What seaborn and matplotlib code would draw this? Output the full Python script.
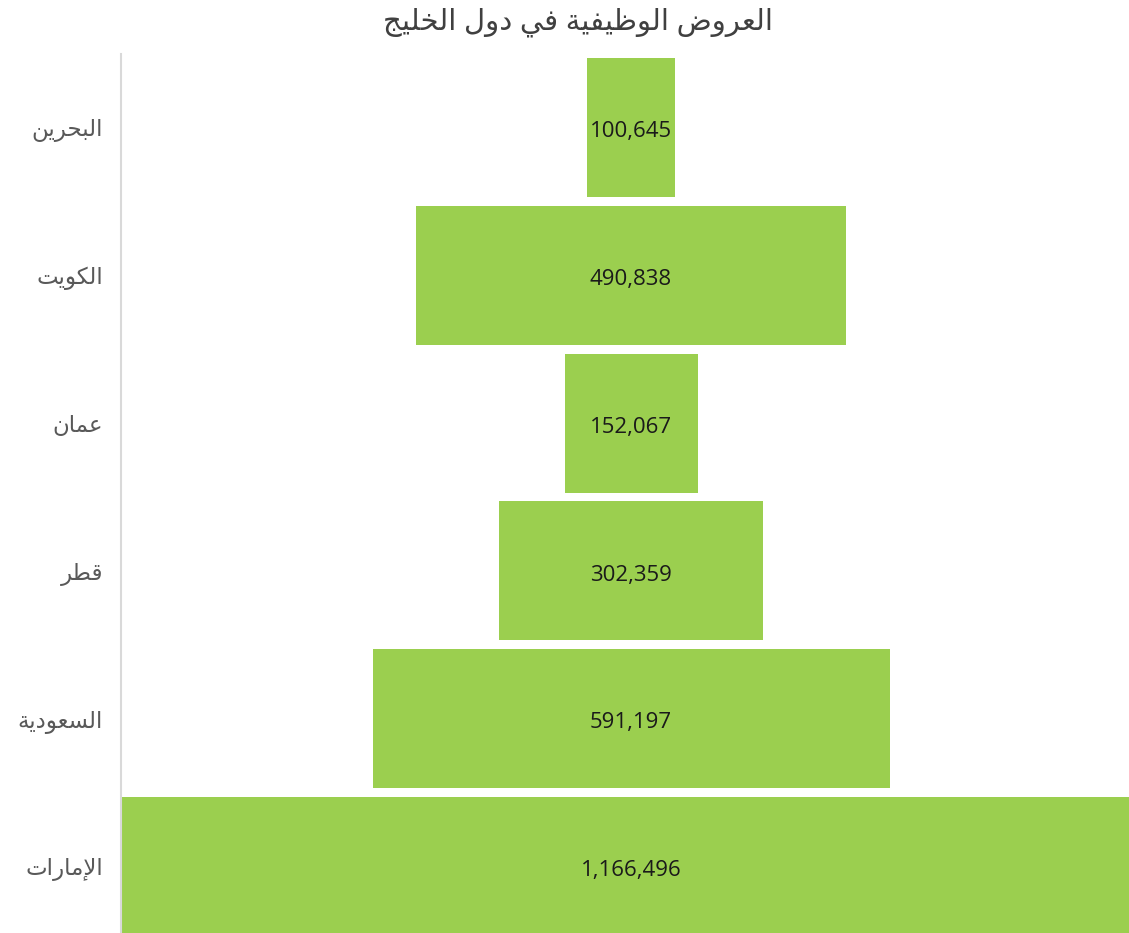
import pandas as pd
import matplotlib.pyplot as plt
import seaborn as sns

# ==========================================
# DATA
# ==========================================
TITLE = 'العروض الوظيفية في دول الخليج'
COUNTRIES = ['البحرين', 'الكويت', 'عمان', 'قطر', 'السعودية', 'الإمارات']
JOB_OFFERS = [100645, 490838, 152067, 302359, 591197, 1166496]

BAR_COLOR = '#9BCF4F'

# Arabic presentation forms: (isolated, final, initial, medial)
FORMS = {
    'ا': ('\uFE8D', '\uFE8E', None, None),
    'إ': ('\uFE87', '\uFE88', None, None),
    'ب': ('\uFE8F', '\uFE90', '\uFE91', '\uFE92'),
    'ة': ('\uFE93', '\uFE94', None, None),
    'ت': ('\uFE95', '\uFE96', '\uFE97', '\uFE98'),
    'ج': ('\uFE9D', '\uFE9E', '\uFE9F', '\uFEA0'),
    'ح': ('\uFEA1', '\uFEA2', '\uFEA3', '\uFEA4'),
    'خ': ('\uFEA5', '\uFEA6', '\uFEA7', '\uFEA8'),
    'د': ('\uFEA9', '\uFEAA', None, None),
    'ر': ('\uFEAD', '\uFEAE', None, None),
    'س': ('\uFEB1', '\uFEB2', '\uFEB3', '\uFEB4'),
    'ض': ('\uFEBD', '\uFEBE', '\uFEBF', '\uFEC0'),
    'ط': ('\uFEC1', '\uFEC2', '\uFEC3', '\uFEC4'),
    'ظ': ('\uFEC5', '\uFEC6', '\uFEC7', '\uFEC8'),
    'ع': ('\uFEC9', '\uFECA', '\uFECB', '\uFECC'),
    'ف': ('\uFED1', '\uFED2', '\uFED3', '\uFED4'),
    'ق': ('\uFED5', '\uFED6', '\uFED7', '\uFED8'),
    'ك': ('\uFED9', '\uFEDA', '\uFEDB', '\uFEDC'),
    'ل': ('\uFEDD', '\uFEDE', '\uFEDF', '\uFEE0'),
    'م': ('\uFEE1', '\uFEE2', '\uFEE3', '\uFEE4'),
    'ن': ('\uFEE5', '\uFEE6', '\uFEE7', '\uFEE8'),
    'و': ('\uFEED', '\uFEEE', None, None),
    'ي': ('\uFEF1', '\uFEF2', '\uFEF3', '\uFEF4'),
    'لا': ('\uFEFB', '\uFEFC', None, None),
    'لإ': ('\uFEF9', '\uFEFA', None, None),
}


def shape(text):
    """Join Arabic letters and put them in visual (left-to-right) order."""
    letters = []
    i = 0
    while i < len(text):
        pair = text[i:i + 2]
        if pair in ('لا', 'لإ'):
            letters.append(pair)
            i += 2
        else:
            letters.append(text[i])
            i += 1

    out = []
    for k, ch in enumerate(letters):
        if ch not in FORMS:
            out.append(ch)
            continue
        prev = letters[k - 1] if k > 0 else None
        nxt = letters[k + 1] if k + 1 < len(letters) else None
        joins_prev = prev in FORMS and FORMS[prev][2] is not None
        joins_next = FORMS[ch][2] is not None and nxt in FORMS
        iso, fin, ini, med = FORMS[ch]
        if joins_prev and joins_next:
            out.append(med)
        elif joins_prev:
            out.append(fin)
        elif joins_next:
            out.append(ini)
        else:
            out.append(iso)
    return ''.join(out)[::-1]


# ==========================================
# PLOT
# ==========================================
sns.set_theme(style='white')
plt.rcParams['font.family'] = ['Open Sans', 'DejaVu Sans']

df = pd.DataFrame({
    'country': [shape(c) for c in COUNTRIES],
    'jobs': JOB_OFFERS,
})

fig = plt.figure(figsize=(11.29, 9.33), dpi=100)
# plot area runs a little past the right edge of the picture (cropped)
ax = fig.add_axes([0.1072, -0.0079, 0.9035, 0.9505])

sns.barplot(data=df, x='jobs', y='country', color=BAR_COLOR, saturation=1,
            width=0.94, linewidth=0, ax=ax)

# center every bar to get the funnel shape
max_v = max(JOB_OFFERS)
for p in ax.patches:
    p.set_x((max_v - p.get_width()) / 2)
ax.set_xlim(0, max_v)

texts = ax.bar_label(ax.containers[0], labels=[f'{v:,}' for v in JOB_OFFERS],
                     label_type='center', fontsize=16, color='#1a1a1a')
for t in texts:
    t.xyann = (0, -3)

ax.set_xlabel('')
ax.set_ylabel('')
ax.set_xticks([])
ax.tick_params(axis='y', length=0, pad=13, labelsize=16.5, labelcolor='#595959')
for side in ['top', 'right', 'bottom']:
    ax.spines[side].set_visible(False)
ax.spines['left'].set_color('#d9d9d9')
ax.spines['left'].set_linewidth(1.5)

fig.text(0.512, 0.992, shape(TITLE), ha='center', va='top',
         fontsize=21, color='#404040')

fig.savefig('out.png', dpi=100)
